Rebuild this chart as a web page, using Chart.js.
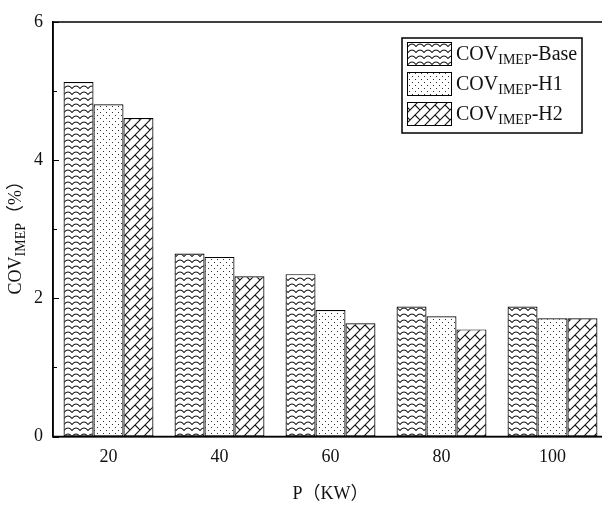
<!DOCTYPE html>
<html>
<head>
<meta charset="utf-8">
<script src="https://cdn.jsdelivr.net/npm/chart.js@4"></script>
<style>
  html, body { margin: 0; padding: 0; background: #fff; overflow: hidden; }
  #wrap { width: 612px; height: 507px; }
</style>
</head>
<body>
<div id="wrap"><canvas id="chart" width="612" height="507"></canvas></div>
<script>
// data
const categories = ["20", "40", "60", "80", "100"];
const baseValues = [5.13, 2.65, 2.35, 1.88, 1.88];
const h1Values = [4.81, 2.60, 1.83, 1.74, 1.71];
const h2Values = [4.61, 2.32, 1.64, 1.55, 1.71];
const yMajorTicks = [0, 2, 4, 6];
const yMinorTicks = [1, 3, 5];
const seriesNames = ["Base", "H1", "H2"];

const SERIF = '"Liberation Serif", "Times New Roman", "Noto Sans CJK SC", serif';

// fill patterns
function makeTile(w, h, draw) {
    const c = document.createElement("canvas");
    c.width = w; c.height = h;
    const g = c.getContext("2d");
    g.fillStyle = "#fff";
    g.fillRect(0, 0, w, h);
    draw(g);
    return document.getElementById("chart").getContext("2d").createPattern(c, "repeat");
}

const wavePattern = makeTile(8, 6, g => {
    g.strokeStyle = "#111";
    g.lineWidth = 1.1;
    g.beginPath();
    g.moveTo(-1, 5);
    g.lineTo(0, 4.5);
    g.quadraticCurveTo(4, -0.5, 8, 4.5);
    g.lineTo(9, 5);
    g.stroke();
});

const dotPattern = makeTile(6, 6, g => {
    g.fillStyle = "#333";
    g.fillRect(1, 1, 1, 1);
    g.fillRect(4, 4, 1, 1);
});

const brickPattern = makeTile(10, 10, g => {
    g.strokeStyle = "#111";
    g.lineWidth = 1.1;
    g.beginPath();
    g.moveTo(-1, 11); g.lineTo(11, -1);
    g.moveTo(-1, 1); g.lineTo(1, -1);
    g.moveTo(9, 11); g.lineTo(11, 9);
    g.moveTo(5, 5); g.lineTo(10, 10);
    g.stroke();
});

const patterns = [wavePattern, dotPattern, brickPattern];

// draws COV + subscript IMEP + rest, starting at x
function subText(ctx, x, y, rest, big, small, drop) {
    ctx.font = big + "px " + SERIF;
    ctx.fillText("COV", x, y);
    x += ctx.measureText("COV").width;
    ctx.font = small + "px " + SERIF;
    ctx.fillText("IMEP", x, y + drop);
    x += ctx.measureText("IMEP").width;
    ctx.font = big + "px " + SERIF;
    ctx.fillText(rest, x, y);
}

function subWidth(ctx, rest, big, small) {
    ctx.font = big + "px " + SERIF;
    let w = ctx.measureText("COV").width + ctx.measureText(rest).width;
    ctx.font = small + "px " + SERIF;
    return w + ctx.measureText("IMEP").width;
}

const overlay = {
    id: "overlay",
    afterDraw(chart) {
        const { ctx, chartArea: a, scales: { y } } = chart;
        ctx.save();
        ctx.strokeStyle = "#000";
        ctx.lineWidth = 1.5;
        ctx.strokeRect(a.left, a.top, a.right - a.left, a.bottom - a.top);

        // inward ticks
        ctx.lineWidth = 1;
        ctx.beginPath();
        yMajorTicks.forEach(v => {
            const py = Math.round(y.getPixelForValue(v)) + 0.5;
            ctx.moveTo(a.left, py); ctx.lineTo(a.left + 6, py);
        });
        yMinorTicks.forEach(v => {
            const py = Math.round(y.getPixelForValue(v)) + 0.5;
            ctx.moveTo(a.left, py); ctx.lineTo(a.left + 4, py);
        });
        ctx.stroke();

        // y axis title
        ctx.fillStyle = "#111";
        ctx.textBaseline = "alphabetic";
        ctx.save();
        ctx.translate(21, (a.top + a.bottom) / 2 + 4);
        ctx.rotate(-Math.PI / 2);
        const tw = subWidth(ctx, "（%）", 18, 14);
        subText(ctx, -tw / 2, 0, "（%）", 18, 14, 4);
        ctx.restore();

        // legend
        const lx = 402, ly = 38, lw = 180, lh = 95;
        ctx.fillStyle = "#fff";
        ctx.fillRect(lx, ly, lw, lh);
        ctx.strokeStyle = "#000";
        ctx.lineWidth = 1.5;
        ctx.strokeRect(lx, ly, lw, lh);
        const rows = [42, 72, 102];
        ctx.lineWidth = 1;
        rows.forEach((ry, i) => {
            ctx.fillStyle = patterns[i];
            ctx.fillRect(407, ry, 44, 23);
            ctx.strokeRect(407.5, ry + 0.5, 44, 23);
            ctx.fillStyle = "#111";
            subText(ctx, 456, ry + 18, "-" + seriesNames[i], 20, 14, 4);
        });
        ctx.restore();
    }
};

new Chart(document.getElementById("chart"), {
    type: "bar",
    data: {
        labels: categories,
        datasets: [
            { label: "COV-Base", data: baseValues, backgroundColor: wavePattern },
            { label: "COV-H1", data: h1Values, backgroundColor: dotPattern },
            { label: "COV-H2", data: h2Values, backgroundColor: brickPattern }
        ].map(d => Object.assign(d, {
            borderColor: "#000",
            borderWidth: 1.2,
            borderSkipped: false,
            barPercentage: 1,
            categoryPercentage: 0.81
        }))
    },
    options: {
        responsive: false,
        animation: false,
        layout: { padding: { left: 0, top: 22, right: 4, bottom: 0 } },
        plugins: { legend: { display: false }, tooltip: { enabled: false } },
        scales: {
            x: {
                grid: { display: false, drawTicks: false },
                border: { color: "#000", width: 1.5 },
                ticks: { color: "#111", padding: 10, font: { family: SERIF, size: 18 } },
                title: {
                    display: true, text: "P（KW）", color: "#111",
                    font: { family: SERIF, size: 18 }, padding: { top: 0, bottom: 2 }
                },
                afterFit: s => { s.height = 70.5; }
            },
            y: {
                min: 0, max: 6,
                grid: { display: false, drawTicks: false },
                border: { color: "#000", width: 1.5 },
                ticks: { stepSize: 2, color: "#111", padding: 10, font: { family: SERIF, size: 18 } },
                afterFit: s => { s.width = 53; }
            }
        }
    },
    plugins: [overlay]
});
</script>
</body>
</html>
